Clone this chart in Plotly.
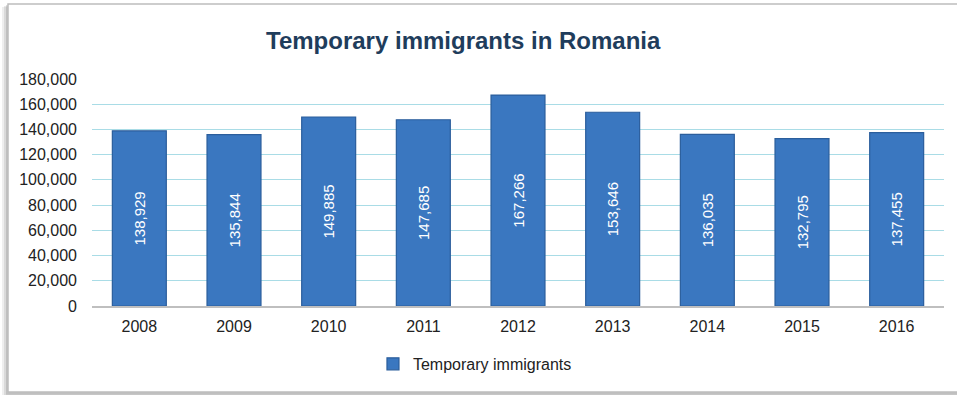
import plotly.graph_objects as go

years = ["2008", "2009", "2010", "2011", "2012", "2013", "2014", "2015", "2016"]
immigrants = [138929, 135844, 149885, 147685, 167266, 153646, 136035, 132795, 137455]
y_ticks = [0, 20000, 40000, 60000, 80000, 100000, 120000, 140000, 160000, 180000]
series_name = "Temporary immigrants"

fig = go.Figure()
fig.add_trace(go.Bar(
    x=years,
    y=immigrants,
    name=series_name,
    width=0.57,
    marker=dict(color="#3A77C0", line=dict(color="#2B5E9C", width=1.2)),
    text=[f"{v:,}" for v in immigrants],
    textposition="inside",
    insidetextanchor="middle",
    textangle=-90,
    textfont=dict(color="white", size=15, family="Liberation Sans, Arial"),
    showlegend=True,
))

# outer card: soft shadow fading out to the left, then a white panel with thin grey edge
plot_w, plot_h = 852, 227
def px_x(p):
    return (p - 92) / plot_w
def px_y(p):
    return (306 - p) / plot_h

for off, alpha in [(6, 0.10), (4, 0.15), (2, 0.22)]:
    fig.add_shape(type="rect", xref="paper", yref="paper",
                  x0=px_x(8 - off), x1=1.03, y0=px_y(394 + off / 3), y1=px_y(4 + off / 2),
                  line=dict(width=0), fillcolor=f"rgba(100,100,100,{alpha})", layer="below")
fig.add_shape(type="rect", xref="paper", yref="paper",
              x0=px_x(8), x1=1.03, y0=px_y(392), y1=px_y(4),
              line=dict(color="#BDBDBD", width=1.5), fillcolor="white", layer="below")

fig.update_layout(
    width=957, height=395,
    margin=dict(l=92, r=13, t=79, b=89),
    paper_bgcolor="white", plot_bgcolor="white",
    font=dict(family="Liberation Sans, Arial", color="#222222", size=16),
    title=dict(text="<b>Temporary immigrants in Romania</b>", x=0.484, xanchor="center",
               y=0.898, yanchor="middle",
               font=dict(size=24, color="#1F3D5C", family="Liberation Sans, Arial")),
    xaxis=dict(showgrid=False, showline=True, linecolor="#BFBFBF", linewidth=2,
               ticks="", tickfont=dict(size=16), ticklabelstandoff=5),
    yaxis=dict(range=[0, 180000], tickvals=y_ticks, tickformat=",", showgrid=True,
               gridcolor="#A9DCE6", gridwidth=1.3, zeroline=False, showline=False,
               ticks="", tickfont=dict(size=16), ticklabelstandoff=14),
    legend=dict(orientation="h", x=0.4495, xanchor="center", y=-0.255, yanchor="middle",
                font=dict(size=16)),
    bargap=0.43,
)

fig.write_html("out.html")
